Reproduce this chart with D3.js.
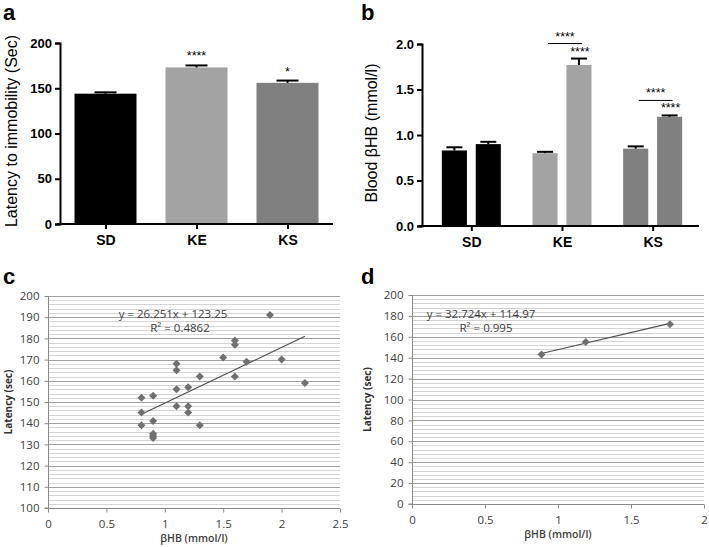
<!DOCTYPE html>
<html><head><meta charset="utf-8">
<script src="https://cdn.jsdelivr.net/npm/d3@7"></script>
<style>body{margin:0;background:#fff}svg{display:block}</style>
</head><body>
<svg id="c" width="709" height="547"></svg>
<script>
// ---- Panel a data ----
const groupsA = ["SD","KE","KS"];
const latencyMean = [144, 173, 156];
const latencyErr = [1.5, 2.2, 2.5];
const latencyStars = ["", "****", "*"];
const barColors = ["#000000","#a3a3a3","#808080"];
const ticksA = [0,50,100,150,200];

// ---- Panel b data ----
const groupsB = ["SD","KE","KS"];
const bhbBefore = [0.83, 0.80, 0.85];
const bhbBeforeErr = [0.035, 0.015, 0.025];
const bhbAfter = [0.90, 1.77, 1.20];
const bhbAfterErr = [0.025, 0.07, 0.015];
const ticksB = [0,0.5,1.0,1.5,2.0];

// ---- Panel c data ----
const scatterX = [0.8,0.8,0.8,0.9,0.9,0.9,0.9,0.9,1.1,1.1,1.1,1.1,1.2,1.2,1.2,1.3,1.3,1.5,1.6,1.6,1.6,1.7,1.9,2.0,2.2];
const scatterY = [152,145,139,153,141,135,134,133,168,165,156,148,157,148,145,162,139,171,179,177,162,169,191,170,159];
const fitC = {slope:26.251, intercept:123.25};
const eqC = ["y = 26.251x + 123.25","R² = 0.4862"];
const ticksCx = [0,0.5,1,1.5,2,2.5];

// ---- Panel d data ----
const meanX = [0.887, 1.19, 1.767];
const meanY = [143, 155, 172];
const fitD = {slope:32.724, intercept:114.97};
const eqD = ["y = 32.724x + 114.97","R² = 0.995"];
const ticksDx = [0,0.5,1,1.5,2];

const svg = d3.select("#c");
const AR = "Liberation Sans, Arial, sans-serif";

function panelLabel(t,x,y){
  svg.append("text").attr("x",x).attr("y",y).text(t)
    .attr("font-family",AR).attr("font-weight","bold").attr("font-size",22).attr("fill","#000");
}

// ================= Panel a =================
(function(){
  const y = d3.scaleLinear().domain([0,200]).range([224,43]);
  const x = d3.scalePoint().domain(groupsA).range([60,333]).padding(0.5);
  const bw = 62;
  const g = svg.append("g");
  g.selectAll("rect").data(groupsA).join("rect")
    .attr("x",d=>x(d)-bw/2).attr("width",bw)
    .attr("y",(d,i)=>y(latencyMean[i])).attr("height",(d,i)=>y(0)-y(latencyMean[i]))
    .attr("fill",(d,i)=>barColors[i]);
  groupsA.forEach((d,i)=>{
    const top = y(latencyMean[i]+latencyErr[i]);
    g.append("line").attr("x1",x(d)).attr("x2",x(d)).attr("y1",y(latencyMean[i])).attr("y2",top).attr("stroke","#000").attr("stroke-width",2);
    g.append("line").attr("x1",x(d)-11).attr("x2",x(d)+11).attr("y1",top).attr("y2",top).attr("stroke","#000").attr("stroke-width",2);
    if(latencyStars[i]) g.append("text").attr("x",x(d)).attr("y",top-5).attr("text-anchor","middle")
      .attr("font-family",AR).attr("font-size",12.5).text(latencyStars[i]);
  });
  const ya = g.append("g").attr("transform","translate(60,0)")
    .call(d3.axisLeft(y).tickValues(ticksA).tickSize(5).tickFormat(d3.format("d")));
  ya.select(".domain").attr("stroke-width",2);
  ya.selectAll(".tick line").attr("stroke-width",2);
  ya.selectAll("text").attr("font-family",AR).attr("font-weight","bold").attr("font-size",13).attr("fill","#000");
  const xa = g.append("g").attr("transform","translate(0,224)")
    .call(d3.axisBottom(x).tickSize(5));
  xa.select(".domain").attr("d","M57,0H333").attr("stroke-width",2);
  xa.selectAll(".tick line").attr("stroke-width",2);
  xa.selectAll("text").attr("font-family",AR).attr("font-weight","bold").attr("font-size",14).attr("fill","#000").attr("dy","0.95em");
  g.append("text").attr("transform","translate(17,131) rotate(-90)").attr("text-anchor","middle")
    .attr("font-family",AR).attr("font-size",16).text("Latency to immobility (Sec)");
  panelLabel("a",3,20);
})();

// ================= Panel b =================
(function(){
  const y = d3.scaleLinear().domain([0,2]).range([226,44]);
  const x = d3.scalePoint().domain(groupsB).range([426,698]).padding(0.5);
  const x1 = d3.scaleBand().domain(["before","after"]).range([-29.5,29.5]).paddingInner(0.26);
  const g = svg.append("g");
  const series = [["before",bhbBefore,bhbBeforeErr],["after",bhbAfter,bhbAfterErr]];
  groupsB.forEach((grp,i)=>{
    series.forEach(([k,vals,errs])=>{
      const bx = x(grp)+x1(k), w = x1.bandwidth(), cx = bx+w/2;
      g.append("rect").attr("x",bx).attr("width",w).attr("y",y(vals[i])).attr("height",y(0)-y(vals[i])).attr("fill",barColors[i]);
      const top = y(vals[i]+errs[i]);
      g.append("line").attr("x1",cx).attr("x2",cx).attr("y1",y(vals[i])).attr("y2",top).attr("stroke","#000").attr("stroke-width",2);
      g.append("line").attr("x1",cx-8).attr("x2",cx+8).attr("y1",top).attr("y2",top).attr("stroke","#000").attr("stroke-width",2);
    });
  });
  // significance marks for KE and KS
  [1,2].forEach(i=>{
    const grp = groupsB[i];
    const w = x1.bandwidth();
    const cA = x(grp)+x1("after")+w/2;
    const cB = x(grp)+x1("before")+w/2;
    const top = y(bhbAfter[i]+bhbAfterErr[i]);
    g.append("text").attr("x",cA+1).attr("y",top-3).attr("text-anchor","middle").attr("font-family",AR).attr("font-size",12.5).text("****");
    const ly = top-15;
    g.append("line").attr("x1",cB+3).attr("x2",cA+3).attr("y1",ly).attr("y2",ly).attr("stroke","#000").attr("stroke-width",1);
    g.append("text").attr("x",(cB+cA)/2+3).attr("y",ly-3).attr("text-anchor","middle").attr("font-family",AR).attr("font-size",12.5).text("****");
  });
  const ya = g.append("g").attr("transform","translate(422,0)")
    .call(d3.axisLeft(y).tickValues(ticksB).tickSize(5).tickFormat(d3.format(".1f")));
  ya.select(".domain").attr("stroke-width",2);
  ya.selectAll(".tick line").attr("stroke-width",2);
  ya.selectAll("text").attr("font-family",AR).attr("font-weight","bold").attr("font-size",13).attr("fill","#000");
  const xa = g.append("g").attr("transform","translate(0,226)")
    .call(d3.axisBottom(x).tickSize(5));
  xa.select(".domain").attr("d","M419,0H699").attr("stroke-width",2);
  xa.selectAll(".tick line").attr("stroke-width",2);
  xa.selectAll("text").attr("font-family",AR).attr("font-weight","bold").attr("font-size",14).attr("fill","#000").attr("dy","0.95em");
  g.append("text").attr("transform","translate(377,133) rotate(-90)").attr("text-anchor","middle")
    .attr("font-family",AR).attr("font-size",16).text("Blood βHB (mmol/l)");
  panelLabel("b",361,20);
})();

// ================= Scatter panels =================
const SF = "Open Sans, Liberation Sans, sans-serif";
function scatterPanel(o){
  const g = svg.append("g");
  const x = d3.scaleLinear().domain(o.xd).range([o.x0,o.x1]);
  const y = d3.scaleLinear().domain(o.yd).range([o.y0,o.y1]);
  // minor grid
  g.append("g").selectAll("line").data(d3.range(o.yd[0],o.yd[1]+1e-9,o.minor)).join("line")
    .attr("x1",o.x0).attr("x2",o.x1).attr("y1",d=>Math.round(y(d))+0.5).attr("y2",d=>Math.round(y(d))+0.5)
    .attr("stroke","#d4d4d4").attr("stroke-width",1);
  // major grid
  g.append("g").selectAll("line").data(o.yticks.filter(d=>d>o.yd[0])).join("line")
    .attr("x1",o.x0).attr("x2",o.x1).attr("y1",d=>Math.round(y(d))+0.5).attr("y2",d=>Math.round(y(d))+0.5)
    .attr("stroke","#a0a0a0").attr("stroke-width",1);
  const ya = g.append("g").attr("transform",`translate(${o.x0+0.5},0)`)
    .call(d3.axisLeft(y).tickValues(o.yticks).tickSize(4).tickPadding(5));
  ya.select(".domain").attr("stroke","#8a8a8a").attr("d",`M-4,${y(o.yd[0])}H0V${y(o.yd[1])}`);
  ya.selectAll(".tick line").attr("stroke","#8a8a8a");
  ya.selectAll("text").attr("font-family",SF).attr("font-size",11.5).attr("fill","#404040");
  const xa = g.append("g").attr("transform",`translate(0,${Math.round(y(o.yd[0]))+0.5})`)
    .call(d3.axisBottom(x).tickValues(o.xticks).tickSize(4).tickPadding(7).tickFormat(d=>String(d)));
  xa.select(".domain").attr("stroke","#8a8a8a").attr("d",`M${o.x0},0H${o.x1}`);
  xa.selectAll(".tick line").attr("stroke","#8a8a8a");
  xa.selectAll("text").attr("font-family",SF).attr("font-size",11.5).attr("fill","#404040");
  // fit line
  const xs = d3.extent(o.px);
  g.append("line").attr("x1",x(xs[0])).attr("x2",x(xs[1]))
    .attr("y1",y(o.fit.slope*xs[0]+o.fit.intercept)).attr("y2",y(o.fit.slope*xs[1]+o.fit.intercept))
    .attr("stroke","#505050").attr("stroke-width",1.2);
  // points (diamond = rotated square)
  const sym = d3.symbol(d3.symbolSquare, 32);
  g.selectAll("path.pt").data(o.px).join("path").attr("class","pt")
    .attr("transform",(d,i)=>`translate(${x(d)},${y(o.py[i])}) rotate(45)`).attr("d",sym).attr("fill","#707070");
  // equation
  g.append("text").attr("x",o.eqx).attr("y",o.eqy).attr("text-anchor","middle").attr("font-family",SF).attr("font-size",11.5).attr("fill","#404040").text(o.eq[0]);
  g.append("text").attr("x",o.eqx2).attr("y",o.eqy+14).attr("text-anchor","middle").attr("font-family",SF).attr("font-size",11.5).attr("fill","#404040").text(o.eq[1]);
  // titles
  g.append("text").attr("x",(o.x0+o.x1)/2).attr("y",o.y0+34).attr("text-anchor","middle").attr("font-family",SF).attr("font-weight","600").attr("font-size",10.5).attr("fill","#404040").text("βHB (mmol/l)");
  g.append("text").attr("transform",`translate(${o.ytx},${(o.y0+o.y1)/2}) rotate(-90)`).attr("text-anchor","middle").attr("font-family",SF).attr("font-weight","bold").attr("font-size",10).attr("fill","#303030").text("Latency (sec)");
}
scatterPanel({xd:[0,2.5],yd:[100,200],x0:48,x1:340,y0:508,y1:296,minor:2,yticks:d3.range(100,201,10),xticks:ticksCx,
  px:scatterX,py:scatterY,fit:fitC,eq:eqC,eqx:173,eqx2:180,eqy:318,ytx:12});
scatterPanel({xd:[0,2],yd:[0,200],x0:412,x1:704,y0:504,y1:295,minor:4,yticks:d3.range(0,201,20),xticks:ticksDx,
  px:meanX,py:meanY,fit:fitD,eq:eqD,eqx:481,eqx2:486,eqy:318,ytx:371});
panelLabel("c",3,284);
panelLabel("d",361,284);
</script>
</body></html>
